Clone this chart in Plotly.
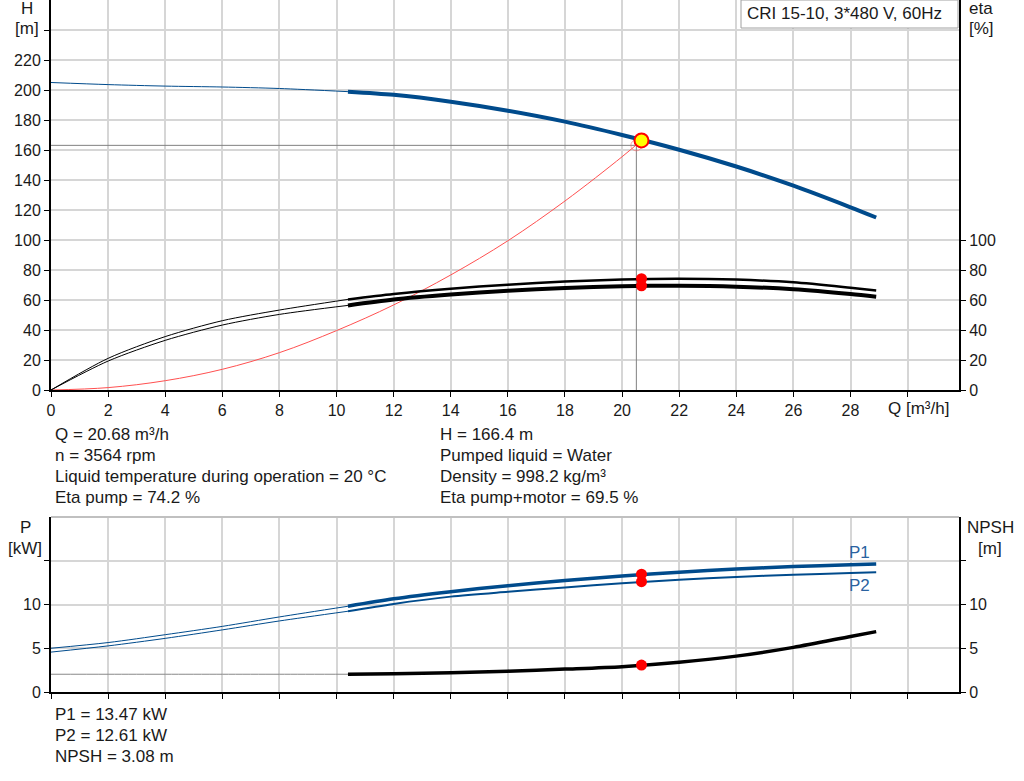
import plotly.graph_objects as go

# flow grid shared by all pump curves [m3/h]
q = [0, 2, 4, 6, 8, 10.4, 12, 14, 16, 18, 20, 22, 24, 26, 28, 28.9]
q_min = 10.4  # curves are drawn thin below this flow

head = [205, 203.6, 202.6, 202, 201, 198.9, 196.8, 192.2, 186.2, 178.9, 170,
        160.2, 149.0, 136.2, 121.8, 115]
eta_pump = [0, 21.1, 35.6, 46.2, 53.3, 60.4, 64.0, 67.5, 70.2, 72.3, 73.7,
            74.2, 73.6, 71.8, 68.2, 66.4]
eta_total = [0, 19.3, 33.1, 43.3, 50.4, 56.4, 60.3, 63.6, 66.2, 68.0, 69.2,
             69.5, 68.9, 67.2, 64.0, 62.2]
p1 = [5.0, 5.65, 6.55, 7.5, 8.58, 9.8, 10.65, 11.46, 12.15, 12.75, 13.25,
      13.68, 14.05, 14.33, 14.55, 14.63]
p2 = [4.56, 5.27, 6.13, 7.1, 8.12, 9.23, 10.07, 10.9, 11.45, 11.95, 12.42,
      12.83, 13.15, 13.4, 13.6, 13.68]
npsh = [2.03, 2.03, 2.03, 2.03, 2.03, 2.03, 2.08, 2.2, 2.38, 2.62, 2.9,
        3.4, 4.1, 5.1, 6.35, 6.9]

# system curve
q_sys = [0, 2, 4, 6, 8, 10, 12, 14, 16, 18, 20, 20.68]
h_sys = [0, 1.6, 6.2, 13.8, 24.9, 39.6, 56.7, 76.7, 99.5, 126, 155.5, 166.4]

# duty point
q_duty = 20.68
h_duty = 166.4
eta_pump_duty = 74.2
eta_total_duty = 69.5
p1_duty = 13.47
p2_duty = 12.61
npsh_duty = 3.08
q_ref, h_ref = 20.5, 163.1

title = "CRI 15-10, 3*480 V, 60Hz"
info_left = ["Q = 20.68 m³/h", "n = 3564 rpm",
             "Liquid temperature during operation = 20 °C", "Eta pump = 74.2 %"]
info_right = ["H = 166.4 m", "Pumped liquid = Water",
              "Density = 998.2 kg/m³", "Eta pump+motor = 69.5 %"]
info_bottom = ["P1 = 13.47 kW", "P2 = 12.61 kW", "NPSH = 3.08 m"]

h_ticks = list(range(0, 260, 20))
eta_ticks = list(range(0, 120, 20))
q_ticks = list(range(0, 32, 2))
p_ticks = [0, 5, 10, 15]

BLUE = "#004b8c"
FONT = "Liberation Sans, Arial, sans-serif"
GRID = "#d6d6d6"
TXT = "#1a1a1a"

W, H = 1024, 781
ML, MR, MT, MB = 51, 65, 0, 89
PW, PH = W - ML - MR, H - MT - MB


def px(x):
    return (x - ML) / PW


def py(y):
    return (H - MB - y) / PH


def split(xs, ys):
    lo = [(a, b) for a, b in zip(xs, ys) if a <= q_min]
    hi = [(a, b) for a, b in zip(xs, ys) if a >= q_min]
    return [a for a, _ in lo], [b for _, b in lo], [a for a, _ in hi], [b for _, b in hi]


fig = go.Figure()


def add_curve(ys, color, thick, xaxis, yaxis, thin_color=None):
    x0, y0, x1, y1 = split(q, ys)
    fig.add_trace(go.Scatter(x=x0, y=y0, mode="lines", xaxis=xaxis, yaxis=yaxis,
                             line=dict(color=thin_color or color, width=1, shape="spline",
                                       smoothing=0.8),
                             hoverinfo="skip"))
    fig.add_trace(go.Scatter(x=x1, y=y1, mode="lines", xaxis=xaxis, yaxis=yaxis,
                             line=dict(color=color, width=thick, shape="spline", smoothing=0.8),
                             hoverinfo="skip"))


# upper chart
fig.add_trace(go.Scatter(x=[0, q_ref, q_ref], y=[h_ref, h_ref, 0], mode="lines",
                         line=dict(color="#808080", width=1), hoverinfo="skip"))
fig.add_trace(go.Scatter(x=q_sys, y=h_sys, mode="lines",
                         line=dict(color="#ff5050", width=1, shape="spline"), hoverinfo="skip"))
add_curve(head, BLUE, 4, "x", "y")
add_curve(eta_pump, "black", 2.5, "x", "y2")
add_curve(eta_total, "black", 4, "x", "y2")
fig.add_trace(go.Scatter(x=[q_duty, q_duty], y=[eta_pump_duty, eta_total_duty], mode="markers",
                         xaxis="x", yaxis="y2",
                         marker=dict(color="#ff0000", size=11), hoverinfo="skip"))
fig.add_trace(go.Scatter(x=[q_ref], y=[h_ref], mode="markers",
                         marker=dict(color="rgba(0,0,0,0)", size=11,
                                     line=dict(color="rgba(255,80,80,0.5)", width=1)),
                         hoverinfo="skip"))
fig.add_trace(go.Scatter(x=[q_duty], y=[h_duty], mode="markers",
                         marker=dict(color="#ffff00", size=14,
                                     line=dict(color="#ff0000", width=2)),
                         hoverinfo="skip"))

# lower chart
add_curve(p1, BLUE, 3.5, "x2", "y3")
add_curve(p2, BLUE, 2, "x2", "y3")
add_curve(npsh, "black", 3.5, "x2", "y4", thin_color="#888888")
fig.add_trace(go.Scatter(x=[q_duty, q_duty], y=[p1_duty, p2_duty], mode="markers",
                         xaxis="x2", yaxis="y3",
                         marker=dict(color="#ff0000", size=11), hoverinfo="skip"))
fig.add_trace(go.Scatter(x=[q_duty], y=[npsh_duty], mode="markers",
                         xaxis="x2", yaxis="y4",
                         marker=dict(color="#ff0000", size=11), hoverinfo="skip"))

top_dom = [py(390), 1]
bot_dom = [0, py(517)]

axis_common = dict(showline=True, linecolor="black", linewidth=2, ticks="outside",
                   ticklen=5, tickcolor="black", tickwidth=1, zeroline=False,
                   tickfont=dict(family=FONT, size=16, color=TXT))

fig.update_layout(
    width=W, height=H,
    margin=dict(l=ML, r=MR, t=MT, b=MB),
    paper_bgcolor="white", plot_bgcolor="white",
    showlegend=False,
    font=dict(family=FONT, size=16, color=TXT),
    xaxis=dict(axis_common, range=[0, 31.8], anchor="y", domain=[0, 1],
               tickvals=q_ticks, ticktext=[str(t) if t < 30 else "" for t in q_ticks],
               showgrid=True, gridcolor=GRID, gridwidth=1.5),
    yaxis=dict(axis_common, range=[0, 260], domain=top_dom, anchor="x",
               tickvals=h_ticks, ticktext=[str(t) if t < 240 else "" for t in h_ticks],
               showgrid=True, gridcolor=GRID, gridwidth=1.5),
    yaxis2=dict(axis_common, range=[0, 260], overlaying="y", side="right", anchor="x",
                tickvals=eta_ticks, showgrid=False),
    xaxis2=dict(axis_common, range=[0, 31.8], anchor="y3", domain=[0, 1],
                tickvals=q_ticks, showticklabels=False,
                showgrid=True, gridcolor=GRID, gridwidth=1.5),
    yaxis3=dict(axis_common, range=[0, 20], domain=bot_dom, anchor="x2",
                tickvals=p_ticks, ticktext=["0", "5", "10", ""],
                showgrid=True, gridcolor=GRID, gridwidth=1.5),
    yaxis4=dict(axis_common, range=[0, 20], overlaying="y3", side="right", anchor="x2",
                tickvals=p_ticks, ticktext=["0", "5", "10", ""], showgrid=False),
)

# top border of the lower chart
fig.add_shape(type="line", xref="paper", yref="paper", x0=0, x1=1, y0=bot_dom[1], y1=bot_dom[1],
              line=dict(color="#c0c0c0", width=2))

# title box
fig.add_shape(type="rect", xref="paper", yref="paper", x0=px(741), x1=px(958), y0=py(28), y1=py(0),
              line=dict(color="#a0a0a0", width=1), fillcolor="white")

ann = []


def text(s, x, y, xanchor="left", color=TXT, size=17):
    ann.append(dict(text=s, x=px(x), y=py(y), xref="paper", yref="paper", showarrow=False,
                    xanchor=xanchor, yanchor="middle", font=dict(family=FONT, size=size, color=color)))


text(title, 745, 14)
text("H", 27, 9, "center")
text("[m]", 27, 29, "center")
text("eta", 981, 9, "center")
text("[%]", 981, 29, "center")
text("P", 25, 527, "center")
text("[kW]", 25, 548, "center")
text("NPSH", 990, 527, "center")
text("[m]", 990, 548, "center")
text("Q [m³/h]", 918, 408, "center")
for i, s in enumerate(info_left):
    text(s, 53, 434 + 21 * i)
for i, s in enumerate(info_right):
    text(s, 438, 434 + 21 * i)
for i, s in enumerate(info_bottom):
    text(s, 53, 714 + 21 * i)

ann.append(dict(text="P1", x=28.3, y=16.0, xref="x2", yref="y3", showarrow=False,
                xanchor="center", font=dict(family=FONT, size=17, color="#2a62a0")))
ann.append(dict(text="P2", x=28.3, y=12.2, xref="x2", yref="y3", showarrow=False,
                xanchor="center", font=dict(family=FONT, size=17, color="#2a62a0")))
fig.update_layout(annotations=ann)

fig.write_html("out.html", config={"displayModeBar": False},
               post_script="document.body.style.margin='0';")
